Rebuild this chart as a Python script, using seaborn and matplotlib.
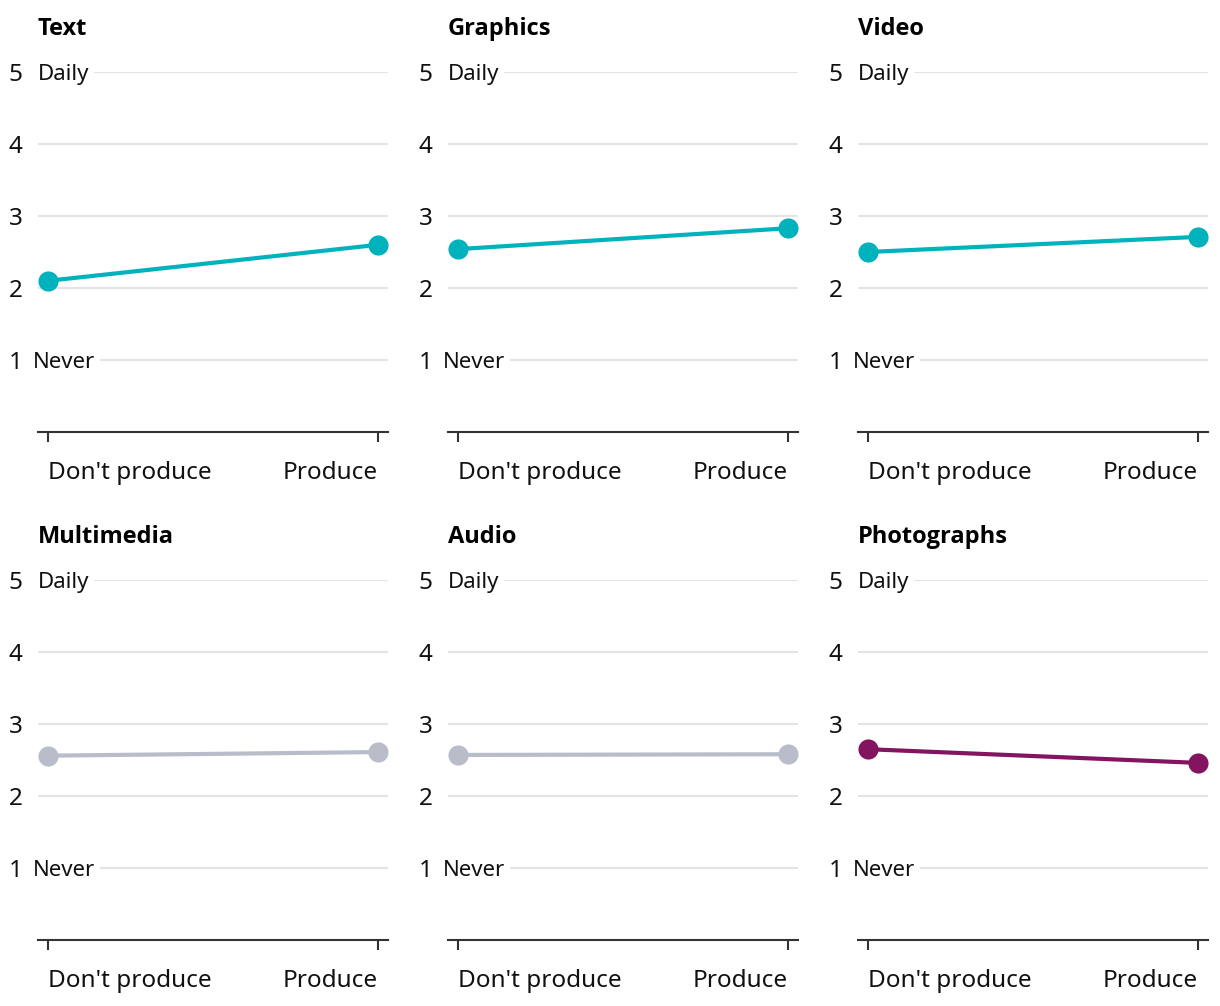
import pandas as pd
import seaborn as sns
import matplotlib.pyplot as plt

# mean frequency (1 = never, 5 = daily) by whether respondents produce the format
formats = ['Text', 'Graphics', 'Video', 'Multimedia', 'Audio', 'Photographs']
dont_produce = [2.10, 2.54, 2.50, 2.56, 2.57, 2.65]
produce = [2.60, 2.83, 2.71, 2.61, 2.58, 2.46]
groups = ["Don't produce", 'Produce']
line_colors = ['#00b2bb', '#00b2bb', '#00b2bb', '#b9bdca', '#b9bdca', '#83145f']

rows = []
for f, a, b in zip(formats, dont_produce, produce):
    rows.append({'Format': f, 'x': 0, 'value': a})
    rows.append({'Format': f, 'x': 1, 'value': b})
df = pd.DataFrame(rows)

sns.set_style("white")
plt.rcParams['font.family'] = ['Noto Sans', 'DejaVu Sans']
plt.rcParams['text.color'] = '#111111'
plt.rcParams['xtick.color'] = '#111111'
plt.rcParams['ytick.color'] = '#111111'

W, H = 1220, 1006
fig = plt.figure(figsize=(W / 100, H / 100), dpi=100)

lefts = [38, 448, 858]
bottoms = [432, 940]
aw, ah = 350, 360

for i, fmt in enumerate(formats):
    r, c = divmod(i, 3)
    ax = fig.add_axes([lefts[c] / W, 1 - bottoms[r] / H, aw / W, ah / H])
    sub = df[df['Format'] == fmt]
    for yv in [2, 3, 4, 5, 1]:
        ax.axhline(yv, color='#e4e4e4', lw=1.5, zorder=0)
    sns.lineplot(data=sub, x='x', y='value', color=line_colors[i], lw=3,
                 marker='o', markersize=14.5, markeredgewidth=0, ax=ax, zorder=3)
    ax.set_xlim(-0.0303, 1.0303)
    ax.set_ylim(0, 5)
    ax.set_xticks([0, 1])
    ax.set_xticklabels(groups, fontsize=17.5)
    ax.get_xticklabels()[0].set_ha('left')
    ax.get_xticklabels()[1].set_ha('right')
    ax.set_yticks([1, 2, 3, 4, 5])
    ax.set_yticklabels(['1', '2', '3', '4', '5'], fontsize=17.5)
    ax.tick_params(axis='y', length=0, pad=11)
    ax.tick_params(axis='x', bottom=True, length=7, width=1.5, color='#333333', pad=14)
    for s in ['top', 'right', 'left']:
        ax.spines[s].set_visible(False)
    ax.spines['bottom'].set_color('#333333')
    ax.spines['bottom'].set_linewidth(1.5)
    ax.set_xlabel('')
    ax.set_ylabel('')
    ax.text(0.0, 4.97, 'Daily', fontsize=16, va='center', ha='left',
            transform=ax.get_yaxis_transform(), zorder=2,
            bbox=dict(facecolor='white', edgecolor='none', pad=3))
    ax.text(-0.014, 0.97, 'Never', fontsize=16, va='center', ha='left',
            transform=ax.get_yaxis_transform(), zorder=2,
            bbox=dict(facecolor='white', edgecolor='none', pad=3))
    ax.text(0.0, 5.6, fmt, fontsize=17, fontweight='bold', va='center', ha='left',
            color='black', family=['Open Sans', 'Roboto', 'DejaVu Sans'],
            transform=ax.get_yaxis_transform())

fig.savefig('out.png', dpi=100)
